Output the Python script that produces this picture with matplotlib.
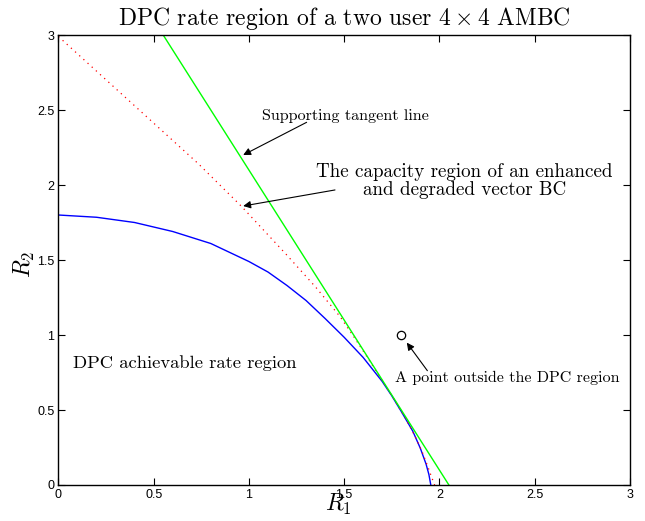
import matplotlib
matplotlib.use("Agg")
import matplotlib.pyplot as plt
import numpy as np

# DPC achievable region boundary (blue)
dpc_r1 = [0, 0.2, 0.4, 0.6, 0.8, 1.0, 1.1, 1.2, 1.3, 1.4, 1.5, 1.6, 1.7, 1.75, 1.8, 1.86, 1.9, 1.93, 1.945, 1.955]
dpc_r2 = [1.80, 1.785, 1.75, 1.69, 1.61, 1.49, 1.42, 1.33, 1.23, 1.11, 0.985, 0.85, 0.69, 0.595, 0.49, 0.36, 0.245, 0.14, 0.07, 0]

# capacity region of the enhanced, degraded BC (red dotted)
enh_r1 = [0, 0.736, 0.963, 1.199, 1.35, 1.479, 1.55, 1.62, 1.7, 1.76, 1.82, 1.87, 1.91, 1.94, 1.96, 1.975]
enh_r2 = [2.99, 2.14, 1.855, 1.533, 1.32, 1.122, 0.99, 0.855, 0.695, 0.575, 0.45, 0.33, 0.22, 0.12, 0.05, 0]

# supporting tangent line (green)
tan_r1 = [0.55, 2.05]
tan_r2 = [3.0, 0.0]

# point outside the region
pt = (1.8, 1.0)

xticks = [0, 0.5, 1, 1.5, 2, 2.5, 3]
yticks = [0, 0.5, 1, 1.5, 2, 2.5, 3]

plt.rcParams['mathtext.fontset'] = 'cm'
serif = 'cmr10'

fig = plt.figure(figsize=(6.45, 5.21), dpi=100)
ax = fig.add_axes([0.0906, 0.0691, 0.8859, 0.8637])

ax.plot(dpc_r1, dpc_r2, color='#0000ff', lw=1.0)
ax.plot(enh_r1, enh_r2, color='#ff0000', lw=0.9, ls=(0, (1, 3.5)))
ax.plot(tan_r1, tan_r2, color='#00ff00', lw=1.0)
ax.plot([pt[0]], [pt[1]], 'o', mfc='none', mec='k', ms=6, mew=0.9)

ax.set_xlim(0, 3)
ax.set_ylim(0, 3)
ax.set_xticks(xticks)
ax.set_yticks(yticks)
ax.set_xticklabels(['0', '0.5', '1', '1.5', '2', '2.5', '3'], family='Liberation Sans', fontsize=9)
ax.set_yticklabels(['0', '0.5', '1', '1.5', '2', '2.5', '3'], family='Liberation Sans', fontsize=9)
ax.tick_params(direction='in', length=5, width=0.8, top=True, right=True, pad=3)
for s in ax.spines.values():
    s.set_linewidth(1.0)

ax.set_title(r'DPC rate region of a two user $4\times4$ AMBC', family=serif, fontsize=17, pad=7)
ax.set_xlabel(r'$R_1$', fontsize=17, va='center')
ax.set_ylabel(r'$R_2$', fontsize=17, va='center')
ax.xaxis.set_label_coords(0.49, -0.044)
ax.yaxis.set_label_coords(-0.059, 0.49)

arrow = dict(arrowstyle='-|>', color='k', lw=0.8, mutation_scale=11, shrinkA=0, shrinkB=0)

ax.text(1.068, 2.46, 'Supporting tangent line', family=serif, fontsize=11.6, ha='left', va='center')
ax.annotate('', xy=(0.970, 2.20), xytext=(1.303, 2.418), arrowprops=arrow)

ax.text(2.13, 2.027, 'The capacity region of an enhanced\nand degraded vector BC', family=serif,
        fontsize=13.7, ha='center', va='center', multialignment='center', linespacing=1.0)
ax.annotate('', xy=(0.970, 1.86), xytext=(1.452, 1.967), arrowprops=arrow)

ax.text(1.767, 0.713, 'A point outside the DPC region', family=serif, fontsize=11.5, ha='left', va='center')
ax.annotate('', xy=(1.829, 0.949), xytext=(1.937, 0.762), arrowprops=arrow)

ax.text(0.075, 0.813, 'DPC achievable rate region', family=serif, fontsize=13.4, ha='left', va='center')

fig.savefig('out.png', dpi=100)
